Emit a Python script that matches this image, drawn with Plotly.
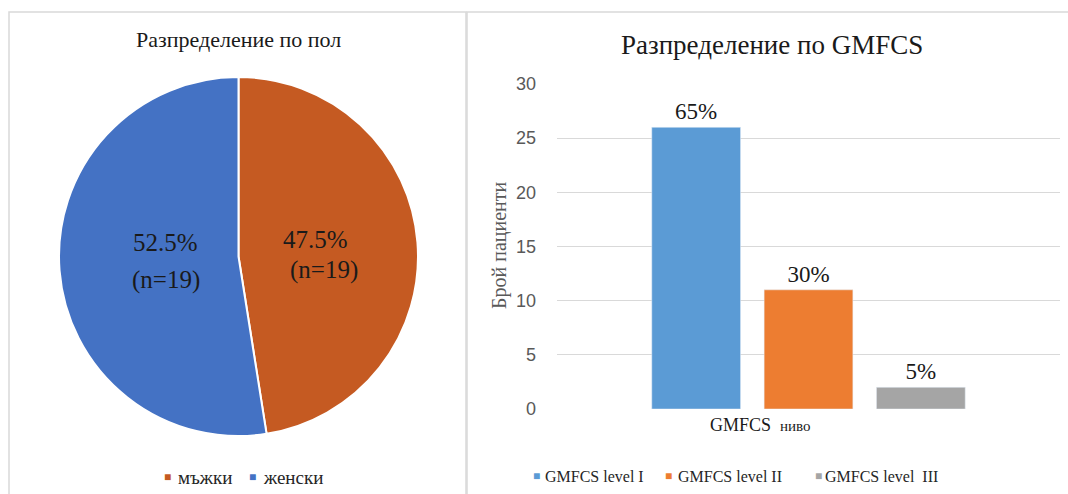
import plotly.graph_objects as go

W, H = 1068, 494

# Data
pie_labels = ["мъжки", "женски"]
pie_values = [19, 21]
pie_texts = ["47.5%<br>(n=19)", "52.5%<br>(n=19)"]
pie_colors = ["#C55A22", "#4472C4"]

bar_category = ["GMFCS  ниво"]
bar_names = ["GMFCS level I", "GMFCS level II", "GMFCS level  III"]
bar_values = [26, 11, 2]
bar_texts = ["65%", "30%", "5%"]
bar_colors = ["#5B9BD5", "#ED7D31", "#A5A5A5"]
y_ticks = [0, 5, 10, 15, 20, 25, 30]


def px(x):
    return x / W


def py(y):
    return 1 - y / H


SERIF = "Liberation Serif, Times New Roman, serif"
SANS = "Liberation Sans, Arial, sans-serif"

fig = go.Figure()

fig.add_trace(go.Pie(
    labels=pie_labels, values=pie_values, text=pie_texts,
    textinfo="none",
    marker=dict(colors=pie_colors, line=dict(color="white", width=2)),
    sort=False, direction="clockwise", rotation=0,
    domain=dict(x=[px(59), px(418)], y=[py(436), py(77)]),
    showlegend=False, hoverinfo="label+percent",
))

for name, val, txt, col in zip(bar_names, bar_values, bar_texts, bar_colors):
    fig.add_trace(go.Bar(
        x=bar_category, y=[val], name=name, text=[txt],
        textposition="outside", cliponaxis=False,
        textfont=dict(family=SERIF, size=23, color="#1a1a1a"),
        marker=dict(color=col), showlegend=False,
    ))

fig.update_layout(
    width=W, height=H, autosize=False,
    margin=dict(l=0, r=0, t=0, b=0, autoexpand=False),
    paper_bgcolor="white", plot_bgcolor="white",
    barmode="group", bargap=0.33, bargroupgap=0.21,
    xaxis=dict(domain=[px(557), px(1060)], anchor="y",
               showticklabels=False, showgrid=False, zeroline=False,
               showline=False, fixedrange=True),
    yaxis=dict(domain=[py(409), py(84)], anchor="x", range=[0, 30],
               tickvals=y_ticks, showgrid=True, gridcolor="#D9D9D9",
               gridwidth=1, zeroline=False, showline=False,
               tickfont=dict(family=SANS, size=18, color="#595959"),
               ticks="", ticklabelstandoff=20),
)

# Panel borders
fig.add_shape(type="rect", xref="paper", yref="paper",
              x0=px(9), x1=px(466), y0=py(500), y1=py(12),
              line=dict(color="#D9D9D9", width=1.5), fillcolor="rgba(0,0,0,0)")
fig.add_shape(type="rect", xref="paper", yref="paper",
              x0=px(467), x1=px(1072), y0=py(500), y1=py(12),
              line=dict(color="#D9D9D9", width=1.5), fillcolor="rgba(0,0,0,0)")

ann = []


def text_at(text, x, y, size, family=SERIF, color="#1a1a1a", xanchor="center", angle=0):
    ann.append(dict(text=text, x=px(x), y=py(y), xref="paper", yref="paper",
                    showarrow=False, xanchor=xanchor, yanchor="middle", textangle=angle,
                    font=dict(family=family, size=size, color=color)))


text_at("Разпределение по пол", 238, 40, 22)
text_at("Разпределение по GMFCS", 772, 45, 27)
text_at("Брой пациенти", 500, 246, 20, color="#595959", angle=-90)
text_at("GMFCS  <span style='font-size:15px'>ниво</span>", 760, 425, 18)

# Pie slice labels (placed as in the reference)
label_pos = [[(315, 240), (324, 270)], [(165, 243), (166, 280)]]
for txt, positions in zip(pie_texts, label_pos):
    for line, (lx, ly) in zip(txt.split("<br>"), positions):
        text_at(line, lx, ly, 25)


def legend_item(x_sq, x_txt, y, color, label, size):
    text_at("■", x_sq, y, 12, family=SANS, color=color)
    text_at(label, x_txt, y, size, color="#262626", xanchor="left")


legend_item(167, 176, 477, pie_colors[0], pie_labels[0], 19)
legend_item(252, 261, 477, pie_colors[1], pie_labels[1], 19)
legend_item(536, 543, 476, bar_colors[0], bar_names[0], 16)
legend_item(668, 676, 476, bar_colors[1], bar_names[1], 16)
legend_item(818, 823, 476, bar_colors[2], bar_names[2], 16)

fig.update_layout(annotations=ann)

fig.write_html(
    "out.html",
    config={"responsive": False, "displayModeBar": False},
    post_script="document.body.style.margin='0';document.body.style.overflow='hidden';",
)
